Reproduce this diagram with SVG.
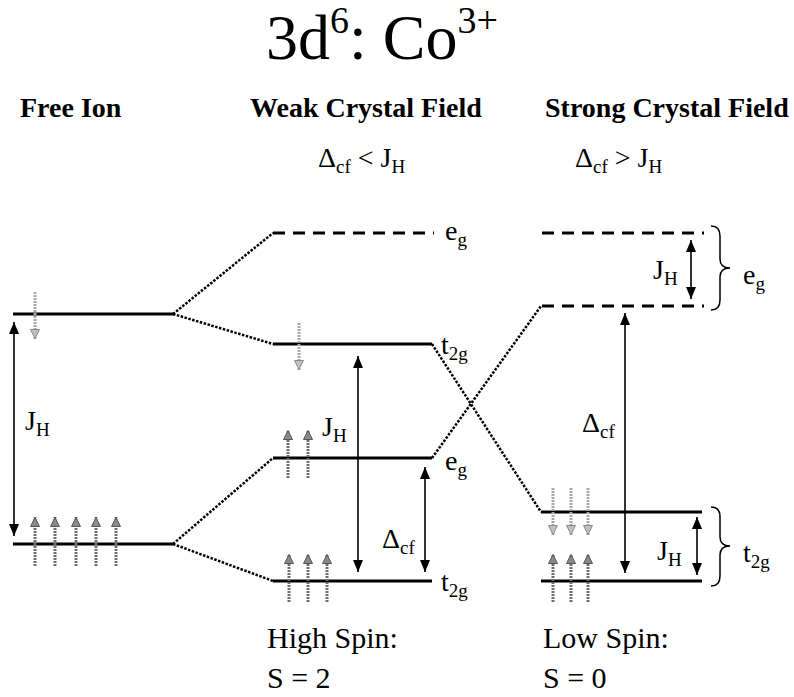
<svg xmlns="http://www.w3.org/2000/svg" width="794" height="697" viewBox="0 0 794 697">
<defs>
<style>
.lvl{stroke:#000;stroke-width:3;fill:none}
.dash{stroke:#000;stroke-width:3;fill:none;stroke-dasharray:12 8}
.dot{stroke:#000;stroke-width:2.5;fill:none;stroke-dasharray:2.5 1.5}
.dbl{stroke:#000;stroke-width:1.6;fill:none;marker-start:url(#ah);marker-end:url(#ah)}
.up{stroke:#6e6e6e;stroke-width:3;stroke-dasharray:2 1;fill:none;marker-end:url(#hu)}
.dn{stroke:#a8a8a8;stroke-width:3;stroke-dasharray:2 1;fill:none;marker-end:url(#hd)}
.brace{stroke:#000;stroke-width:1.5;fill:none}
</style>
<marker id="ah" viewBox="0 0 12 10" refX="12" refY="5" markerWidth="12" markerHeight="10" markerUnits="userSpaceOnUse" orient="auto-start-reverse"><path d="M0,0 L12,5 L0,10 z" fill="#000"/></marker>
<marker id="hu" viewBox="0 0 10 10" refX="10" refY="5" markerWidth="11" markerHeight="10" markerUnits="userSpaceOnUse" orient="auto"><path d="M0.5,0.5 L9.5,5 L0.5,9.5 z" fill="#8a8a8a" stroke="#555" stroke-width="1"/></marker>
<marker id="hd" viewBox="0 0 10 10" refX="10" refY="5" markerWidth="11" markerHeight="10" markerUnits="userSpaceOnUse" orient="auto"><path d="M0.5,0.5 L9.5,5 L0.5,9.5 z" fill="#c0c0c0" stroke="#8a8a8a" stroke-width="1"/></marker>
</defs>
<rect width="794" height="697" fill="#fff"/>

<g id="titles">
<text x="266" y="59" font-family="Liberation Serif" font-size="64">3d<tspan font-size="38" dy="-26">6</tspan><tspan font-size="64" dy="26">: Co</tspan><tspan font-size="38" dy="-26">3+</tspan></text>
<text x="20" y="117" font-family="Liberation Serif" font-size="28" font-weight="bold">Free Ion</text>
<text x="250" y="117" font-family="Liberation Serif" font-size="28" font-weight="bold">Weak Crystal Field</text>
<text x="545" y="117" font-family="Liberation Serif" font-size="28" font-weight="bold">Strong Crystal Field</text>
<text x="318" y="167" font-family="Liberation Serif" font-size="28">Δ<tspan font-size="19" dy="6">cf</tspan><tspan font-size="28" dy="-6"> &lt; J</tspan><tspan font-size="19" dy="6">H</tspan></text>
<text x="575" y="167" font-family="Liberation Serif" font-size="28">Δ<tspan font-size="19" dy="6">cf</tspan><tspan font-size="28" dy="-6"> &gt; J</tspan><tspan font-size="19" dy="6">H</tspan></text>
<text x="267" y="648" font-family="Liberation Serif" font-size="30">High Spin:</text>
<text x="267" y="688" font-family="Liberation Serif" font-size="30">S = 2</text>
<text x="543" y="648" font-family="Liberation Serif" font-size="30">Low Spin:</text>
<text x="543" y="688" font-family="Liberation Serif" font-size="30">S = 0</text>
</g>

<g id="connectors">
<line class="dot" x1="173" y1="314" x2="273" y2="233"/>
<line class="dot" x1="173" y1="314" x2="273" y2="344"/>
<line class="dot" x1="173" y1="544" x2="273" y2="458"/>
<line class="dot" x1="173" y1="544" x2="273" y2="581"/>
<line class="dot" x1="432" y1="344" x2="541" y2="512"/>
<line class="dot" x1="432" y1="458" x2="541" y2="306"/>
</g>

<g id="free-upper">
<line class="lvl" x1="13" y1="314" x2="173" y2="314"/>
<line class="dn" x1="35" y1="292" x2="35" y2="339"/>
</g>
<g id="free-lower">
<line class="lvl" x1="13" y1="544" x2="173" y2="544"/>
<line class="up" x1="35" y1="566" x2="35" y2="517"/>
<line class="up" x1="55" y1="566" x2="55" y2="517"/>
<line class="up" x1="76" y1="566" x2="76" y2="517"/>
<line class="up" x1="96" y1="566" x2="96" y2="517"/>
<line class="up" x1="116" y1="566" x2="116" y2="517"/>
</g>
<g id="free-jh">
<line class="dbl" x1="14" y1="322" x2="14" y2="536"/>
<text x="25" y="430" font-family="Liberation Serif" font-size="28">J<tspan font-size="19" dy="6">H</tspan></text>
</g>

<g id="weak-eg-up">
<line class="dash" x1="273" y1="233" x2="434" y2="233"/>
<text x="445" y="240" font-family="Liberation Serif" font-size="28">e<tspan font-size="19" dy="6">g</tspan></text>
</g>
<g id="weak-t2g-up">
<line class="lvl" x1="273" y1="344" x2="432" y2="344"/>
<line class="dn" x1="299" y1="323" x2="299" y2="370"/>
<text x="441" y="354" font-family="Liberation Serif" font-size="28">t<tspan font-size="19" dy="6">2g</tspan></text>
</g>
<g id="weak-eg-low">
<line class="lvl" x1="273" y1="458" x2="432" y2="458"/>
<line class="up" x1="288" y1="478" x2="288" y2="430"/>
<line class="up" x1="308" y1="478" x2="308" y2="430"/>
<text x="445" y="470" font-family="Liberation Serif" font-size="28">e<tspan font-size="19" dy="6">g</tspan></text>
</g>
<g id="weak-t2g-low">
<line class="lvl" x1="273" y1="581" x2="432" y2="581"/>
<line class="up" x1="289" y1="602" x2="289" y2="554"/>
<line class="up" x1="308" y1="602" x2="308" y2="554"/>
<line class="up" x1="327" y1="602" x2="327" y2="554"/>
<text x="441" y="591" font-family="Liberation Serif" font-size="28">t<tspan font-size="19" dy="6">2g</tspan></text>
</g>
<g id="weak-jh">
<line class="dbl" x1="358" y1="356" x2="358" y2="572"/>
<text x="322" y="436" font-family="Liberation Serif" font-size="28">J<tspan font-size="19" dy="6">H</tspan></text>
</g>
<g id="weak-dcf">
<line class="dbl" x1="425" y1="467" x2="425" y2="572"/>
<text x="382" y="548" font-family="Liberation Serif" font-size="28">Δ<tspan font-size="19" dy="6">cf</tspan></text>
</g>

<g id="strong-eg-up">
<line class="dash" x1="542" y1="233" x2="704" y2="233"/>
</g>
<g id="strong-eg-low">
<line class="dash" x1="542" y1="306" x2="704" y2="306"/>
</g>
<g id="strong-eg-jh">
<line class="dbl" x1="691" y1="240" x2="691" y2="299"/>
<text x="653" y="279" font-family="Liberation Serif" font-size="28">J<tspan font-size="19" dy="6">H</tspan></text>
</g>
<g id="strong-eg-brace">
<path class="brace" d="M711,226 Q720,226 720,236 L720,259 Q720,268 730,268 Q720,268 720,277 L720,300 Q720,310 711,310"/>
<text x="743" y="284" font-family="Liberation Serif" font-size="28">e<tspan font-size="19" dy="6">g</tspan></text>
</g>
<g id="strong-t2g-up">
<line class="lvl" x1="541" y1="512" x2="702" y2="512"/>
<line class="dn" x1="553" y1="488" x2="553" y2="535"/>
<line class="dn" x1="571" y1="488" x2="571" y2="535"/>
<line class="dn" x1="588" y1="488" x2="588" y2="535"/>
</g>
<g id="strong-t2g-low">
<line class="lvl" x1="541" y1="581" x2="702" y2="581"/>
<line class="up" x1="553" y1="602" x2="553" y2="554"/>
<line class="up" x1="571" y1="602" x2="571" y2="554"/>
<line class="up" x1="588" y1="602" x2="588" y2="554"/>
</g>
<g id="strong-t2g-jh">
<line class="dbl" x1="697" y1="517" x2="697" y2="575"/>
<text x="657" y="560" font-family="Liberation Serif" font-size="28">J<tspan font-size="19" dy="6">H</tspan></text>
</g>
<g id="strong-t2g-brace">
<path class="brace" d="M711,507 Q720,507 720,517 L720,537 Q720,546 730,546 Q720,546 720,555 L720,576 Q720,586 711,586"/>
<text x="743" y="562" font-family="Liberation Serif" font-size="28">t<tspan font-size="19" dy="6">2g</tspan></text>
</g>
<g id="strong-dcf">
<line class="dbl" x1="625" y1="313" x2="625" y2="573"/>
<text x="582" y="432" font-family="Liberation Serif" font-size="28">Δ<tspan font-size="19" dy="6">cf</tspan></text>
</g>
</svg>
